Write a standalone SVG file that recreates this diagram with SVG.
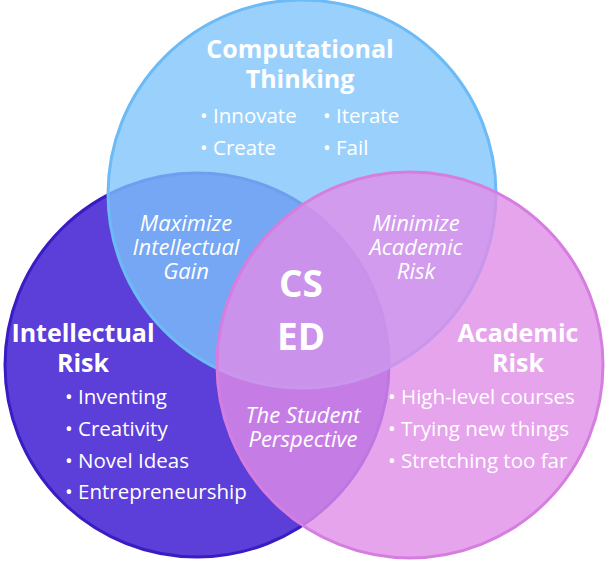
<svg xmlns="http://www.w3.org/2000/svg" width="605" height="561" viewBox="0 0 605 561">
<style>
text{font-family:"Open Sans","Noto Sans",sans-serif;fill:#fff}
.h{font-size:25px;font-weight:bold}
.b{font-size:20.5px}
.i{font-size:22px;font-style:italic}
.c{font-size:37px;font-weight:bold}
</style>
<rect width="605" height="561" fill="#fff"/>
<g id="intellectual">
<circle cx="197" cy="365" r="192" fill="#5b3fd8" stroke="#3a1cc4" stroke-width="3"/>
</g>
<g id="computational">
<circle cx="302" cy="194" r="194" fill="#7ec4fb" fill-opacity="0.78" stroke="#6cbaf6" stroke-width="3"/>
</g>
<g id="academic">
<circle cx="410" cy="365" r="193" fill="#e08de8" fill-opacity="0.8" stroke="#d67ee0" stroke-width="3"/>
</g>
<g id="labels">
<text class="h" x="300" y="58" text-anchor="middle">Computational</text>
<text class="h" x="300" y="88" text-anchor="middle">Thinking</text>
<text class="b" x="200" y="123">• Innovate</text>
<text class="b" x="323" y="123">• Iterate</text>
<text class="b" x="200" y="155">• Create</text>
<text class="b" x="323" y="155">• Fail</text>
<text class="h" x="83" y="342" text-anchor="middle">Intellectual</text>
<text class="h" x="83" y="372" text-anchor="middle">Risk</text>
<text class="b" x="65" y="404">• Inventing</text>
<text class="b" x="65" y="436">• Creativity</text>
<text class="b" x="65" y="468">• Novel Ideas</text>
<text class="b" x="65" y="499">• Entrepreneurship</text>
<text class="h" x="518" y="342" text-anchor="middle">Academic</text>
<text class="h" x="518" y="372" text-anchor="middle">Risk</text>
<text class="b" x="388" y="404">• High-level courses</text>
<text class="b" x="388" y="436">• Trying new things</text>
<text class="b" x="388" y="468">• Stretching too far</text>
<text class="i" x="186" y="231" text-anchor="middle">Maximize</text>
<text class="i" x="186" y="255" text-anchor="middle">Intellectual</text>
<text class="i" x="186" y="279" text-anchor="middle">Gain</text>
<text class="i" x="416" y="231" text-anchor="middle">Minimize</text>
<text class="i" x="416" y="255" text-anchor="middle">Academic</text>
<text class="i" x="416" y="279" text-anchor="middle">Risk</text>
<text class="i" x="303" y="423" text-anchor="middle">The Student</text>
<text class="i" x="303" y="447" text-anchor="middle">Perspective</text>
<text class="c" x="301" y="297" text-anchor="middle">CS</text>
<text class="c" x="301" y="350" text-anchor="middle">ED</text>
</g>
</svg>
